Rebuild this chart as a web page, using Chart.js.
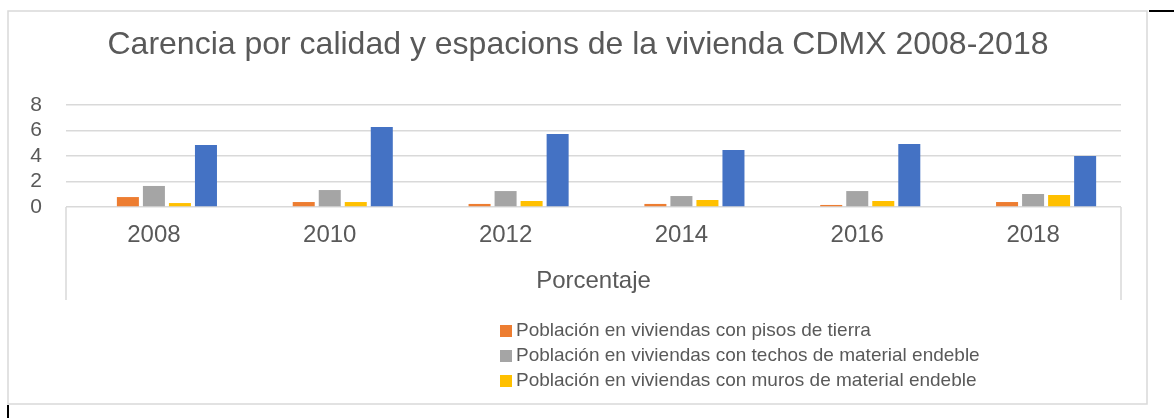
<!DOCTYPE html>
<html>
<head>
<meta charset="utf-8">
<script src="https://cdn.jsdelivr.net/npm/chart.js@4"></script>
<style>
    body { margin: 0; background: #fff; }
    #wrap { position: relative; width: 1174px; height: 418px; }
    #leyenda { position: absolute; left: 500px; top: 317px; font-family: "Liberation Sans", Arial, sans-serif; font-size: 19px; color: #595959; }
    #leyenda div { height: 25px; line-height: 25px; white-space: nowrap; }
    #leyenda span.sq { display: inline-block; width: 12px; height: 12px; margin-right: 4px; vertical-align: -1px; }
</style>
</head>
<body>
<div id="wrap">
    <canvas id="chartCarencia" width="1174" height="418"></canvas>
    <div id="leyenda"></div>
</div>
<script>
// ===== Datos =====
const anios = ['2008', '2010', '2012', '2014', '2016', '2018'];
const serieVacia = [0, 0, 0, 0, 0, 0];
const pisosTierra = [0.78, 0.39, 0.24, 0.24, 0.16, 0.39];
const techosEndeble = [1.65, 1.33, 1.25, 0.86, 1.25, 1.02];
const murosEndeble = [0.31, 0.39, 0.47, 0.55, 0.47, 0.94];
const carenciaCalidad = [4.86, 6.27, 5.73, 4.47, 4.94, 4.0];
const ticksY = [0, 2, 4, 6, 8];

const TITULO = 'Carencia por calidad y espacions de la vivienda CDMX 2008-2018';
const GRIS_TEXTO = '#595959';
const FUENTE = '"Liberation Sans", Arial, sans-serif';

// series que aparecen en la leyenda
const enLeyenda = [1, 2, 3];

// titulo, bordes y caja del eje de categorias
const marcoPlugin = {
    id: 'marco',
    afterDraw(chart) {
        const ctx = chart.ctx;
        const a = chart.chartArea;
        ctx.save();
        ctx.fillStyle = GRIS_TEXTO;
        ctx.font = '32px ' + FUENTE;
        ctx.textAlign = 'center';
        ctx.textBaseline = 'middle';
        ctx.fillText(TITULO, 578, 45);

        ctx.strokeStyle = '#d9d9d9';
        ctx.lineWidth = 1.5;
        ctx.strokeRect(8, 11, 1139, 393);
        ctx.beginPath();
        ctx.moveTo(a.left, a.bottom);
        ctx.lineTo(a.left, 300);
        ctx.moveTo(a.right, a.bottom);
        ctx.lineTo(a.right, 300);
        ctx.stroke();
        // restos de recorte en negro
        ctx.strokeStyle = '#000';
        ctx.lineWidth = 2;
        ctx.beginPath();
        ctx.moveTo(1149, 11);
        ctx.lineTo(1174, 11);
        ctx.moveTo(8, 405);
        ctx.lineTo(8, 418);
        ctx.stroke();
        ctx.restore();
    }
};

const ctx = document.getElementById('chartCarencia').getContext('2d');
const chartCarencia = new Chart(ctx, {
    type: 'bar',
    data: {
        labels: anios,
        datasets: [
            { label: '', data: serieVacia, backgroundColor: 'rgba(0,0,0,0)' },
            { label: 'Población en viviendas con pisos de tierra', data: pisosTierra, backgroundColor: '#ED7D31' },
            { label: 'Población en viviendas con techos de material endeble', data: techosEndeble, backgroundColor: '#A5A5A5' },
            { label: 'Población en viviendas con muros de material endeble', data: murosEndeble, backgroundColor: '#FFC000' },
            { label: 'Carencia por calidad y espacios de la vivienda', data: carenciaCalidad, backgroundColor: '#4472C4' }
        ]
    },
    options: {
        responsive: false,
        animation: false,
        datasets: {
            bar: { categoryPercentage: 0.74, barPercentage: 0.846, borderWidth: 0 }
        },
        layout: { padding: { left: 0, right: 53, top: 105, bottom: 0 } },
        plugins: {
            legend: { display: false },
            tooltip: { enabled: false },
            title: { display: false }
        },
        scales: {
            y: {
                min: 0,
                max: 8,
                afterFit: s => { s.width = 66; },
                afterBuildTicks: s => { s.ticks = ticksY.map(v => ({ value: v })); },
                border: { display: false },
                grid: { color: '#d9d9d9', lineWidth: 1.5, drawTicks: false },
                ticks: { color: GRIS_TEXTO, padding: 24, autoSkip: false, font: { family: FUENTE, size: 21 } }
            },
            x: {
                afterFit: s => { s.height = 211; },
                border: { display: false },
                grid: { display: false, drawTicks: false },
                ticks: { color: GRIS_TEXTO, padding: 14, font: { family: FUENTE, size: 24 } },
                title: {
                    display: true,
                    text: 'Porcentaje',
                    color: GRIS_TEXTO,
                    font: { family: FUENTE, size: 24, lineHeight: 1.2 },
                    padding: { top: 0, bottom: 122 }
                }
            }
        }
    },
    plugins: [marcoPlugin]
});

// leyenda en html
document.getElementById('leyenda').innerHTML = enLeyenda.map(i => {
    const ds = chartCarencia.data.datasets[i];
    return `<div><span class="sq" style="background:${ds.backgroundColor}"></span>${ds.label}</div>`;
}).join('');
</script>
</body>
</html>
